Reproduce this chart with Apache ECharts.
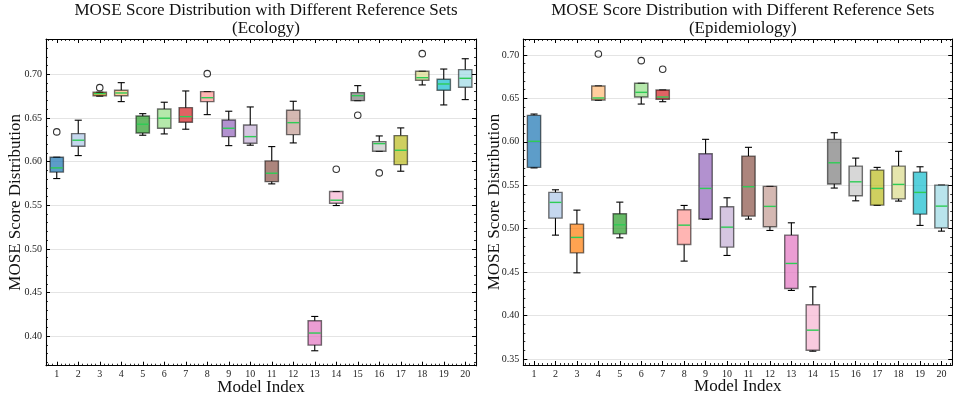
<!DOCTYPE html>
<html>
<head>
<meta charset="utf-8">
<script src="https://cdn.jsdelivr.net/npm/echarts@6/dist/echarts.min.js"></script>
<style>html,body{margin:0;padding:0;background:#fff;}#c{width:953px;height:398px;}</style>
</head>
<body>
<div id="c"></div>
<script>
// ---- data ----
const models = ['1','2','3','4','5','6','7','8','9','10','11','12','13','14','15','16','17','18','19','20'];
// [lower whisker, Q1, median, Q3, upper whisker]
const ecologyBoxes = [
  [0.5806, 0.5880, 0.5928, 0.6050, 0.6050],
  [0.6069, 0.6176, 0.6245, 0.6320, 0.6474],
  [0.6750, 0.6755, 0.6778, 0.6794, 0.6794],
  [0.6687, 0.6755, 0.6786, 0.6817, 0.6904],
  [0.6302, 0.6328, 0.6428, 0.6523, 0.6549],
  [0.6317, 0.6382, 0.6497, 0.6603, 0.6680],
  [0.6371, 0.6451, 0.6515, 0.6618, 0.6809],
  [0.6538, 0.6687, 0.6732, 0.6801, 0.6801],
  [0.6183, 0.6286, 0.6382, 0.6477, 0.6577],
  [0.6188, 0.6210, 0.6286, 0.6420, 0.6626],
  [0.5745, 0.5771, 0.5867, 0.6008, 0.6172],
  [0.6214, 0.6309, 0.6446, 0.6588, 0.6691],
  [0.3834, 0.3899, 0.4037, 0.4177, 0.4227],
  [0.5497, 0.5524, 0.5558, 0.5657, 0.5657],
  [0.6698, 0.6698, 0.6755, 0.6790, 0.6870],
  [0.6119, 0.6119, 0.6206, 0.6229, 0.6294],
  [0.5890, 0.5966, 0.6130, 0.6298, 0.6386],
  [0.6878, 0.6931, 0.6961, 0.7034, 0.7034],
  [0.6649, 0.6817, 0.6889, 0.6943, 0.7060],
  [0.6710, 0.6851, 0.6954, 0.7053, 0.7178]
];
// [model index (0-based), value]
const ecologyOutliers = [[0, 0.634], [2, 0.6847], [7, 0.7007], [13, 0.5913], [14, 0.6531], [15, 0.5871], [17, 0.7236]];

const epidemiologyBoxes = [
  [0.5700, 0.5706, 0.6006, 0.6305, 0.6320],
  [0.4926, 0.5122, 0.5303, 0.5418, 0.5448],
  [0.4492, 0.4722, 0.4900, 0.5053, 0.5214],
  [0.6480, 0.6482, 0.6505, 0.6643, 0.6643],
  [0.4895, 0.4941, 0.5045, 0.5172, 0.5306],
  [0.6435, 0.6516, 0.6570, 0.6674, 0.6674],
  [0.6462, 0.6490, 0.6516, 0.6597, 0.6597],
  [0.4627, 0.4819, 0.5041, 0.5218, 0.5268],
  [0.5107, 0.5111, 0.5464, 0.5863, 0.6029],
  [0.4692, 0.4788, 0.5018, 0.5253, 0.5356],
  [0.5111, 0.5145, 0.5483, 0.5836, 0.5937],
  [0.4980, 0.5022, 0.5257, 0.5487, 0.5487],
  [0.4289, 0.4312, 0.4600, 0.4926, 0.5068],
  [0.3590, 0.3601, 0.3832, 0.4124, 0.4331],
  [0.5468, 0.5514, 0.5759, 0.6029, 0.6105],
  [0.5321, 0.5379, 0.5540, 0.5721, 0.5813],
  [0.5270, 0.5272, 0.5464, 0.5675, 0.5706],
  [0.5318, 0.5344, 0.5510, 0.5721, 0.5891],
  [0.5038, 0.5168, 0.5418, 0.5652, 0.5713],
  [0.4972, 0.5010, 0.5260, 0.5502, 0.5502]
];
const epidemiologyOutliers = [[3, 0.7012], [5, 0.6935], [6, 0.6835]];

const titles = ['MOSE Score Distribution with Different Reference Sets\n(Ecology)',
                'MOSE Score Distribution with Different Reference Sets\n(Epidemiology)'];
const yName = 'MOSE Score Distribution';
const xName = 'Model Index';

const palette = ['#1f77b4','#aec7e8','#ff7f0e','#ffbb78','#2ca02c','#98df8a','#d62728','#ff9896','#9467bd','#c5b0d5',
                 '#8c564b','#c49c94','#e377c2','#f7b6d2','#7f7f7f','#c7c7c7','#bcbd22','#dbdb8d','#17becf','#9edae5'];

// ---- chart ----
const FONT = '"Liberation Serif", "DejaVu Serif", serif';
const minorCats = [];
for (let i = 0; i < models.length * 5; i++) minorCats.push(String(i));

function hexA(hex, a) {
  const r = parseInt(hex.slice(1,3),16), g = parseInt(hex.slice(3,5),16), b = parseInt(hex.slice(5,7),16);
  return 'rgba(' + r + ',' + g + ',' + b + ',' + a + ')';
}

function renderBox(params, api) {
  const x = api.value(0);
  const pLow = api.coord([x, api.value(1)]);
  const pQ1 = api.coord([x, api.value(2)]);
  const pMed = api.coord([x, api.value(3)]);
  const pQ3 = api.coord([x, api.value(4)]);
  const pHigh = api.coord([x, api.value(5)]);
  const band = api.size([1, 0])[0];
  const bw = band * 0.62;
  const cw = band * 0.33;
  const cx = pQ1[0];
  const black = {stroke: '#000', lineWidth: 1.1};
  return {
    type: 'group',
    children: [
      {type: 'line', shape: {x1: cx, y1: pQ1[1], x2: cx, y2: pLow[1]}, style: black},
      {type: 'line', shape: {x1: cx, y1: pQ3[1], x2: cx, y2: pHigh[1]}, style: black},
      {type: 'line', shape: {x1: cx - cw/2, y1: pLow[1], x2: cx + cw/2, y2: pLow[1]}, style: black},
      {type: 'line', shape: {x1: cx - cw/2, y1: pHigh[1], x2: cx + cw/2, y2: pHigh[1]}, style: black},
      {type: 'rect', shape: {x: cx - bw/2, y: pQ3[1], width: bw, height: Math.max(pQ1[1] - pQ3[1], 0.5)},
       style: {fill: hexA(palette[params.dataIndex], 0.72), stroke: 'rgba(0,0,0,0.55)', lineWidth: 1.4}},
      {type: 'line', shape: {x1: cx - bw/2 + 0.7, y1: pMed[1], x2: cx + bw/2 - 0.7, y2: pMed[1]},
       style: {stroke: '#2ecc55', lineWidth: 1.4}}
    ]
  };
}

const grids = [
  {left: 46, right: 477, top: 39, bottom: 32.3, containLabel: false, outerBoundsMode: 'none'},
  {left: 523.3, right: 0.8, top: 39, bottom: 33, containLabel: false, outerBoundsMode: 'none'}
];
const yRanges = [[0.3663, 0.7404], [0.3431, 0.7184]];
const boxesList = [ecologyBoxes, epidemiologyBoxes];
const outliersList = [ecologyOutliers, epidemiologyOutliers];
const yNameGaps = [22, 20];

const xAxes = [], yAxes = [], series = [], titleOpts = [];
const axisLine = {show: true, lineStyle: {color: '#000', width: 1.1}};

for (let g = 0; g < 2; g++) {
  const gr = grids[g];
  const centerX = gr.left + (953 - gr.left - gr.right) / 2;
  titleOpts.push({
    text: titles[g], left: centerX, top: -3, textAlign: 'center',
    textStyle: {fontFamily: FONT, fontSize: 17, fontWeight: 'normal', color: '#111', lineHeight: 18}
  });
  const base = xAxes.length;
  // main bottom category axis
  xAxes.push({
    type: 'category', data: models, gridIndex: g, position: 'bottom', boundaryGap: true,
    axisLine: axisLine,
    axisTick: {show: true, inside: true, alignWithLabel: true, interval: 0, length: 4, lineStyle: {color: '#000', width: 1}},
    axisLabel: {interval: 0, fontFamily: FONT, fontSize: 10, color: '#222', margin: 4},
    splitLine: {show: false},
    name: xName, nameLocation: 'middle', nameGap: 13, nameMoveOverlap: false,
    nameTextStyle: {fontFamily: FONT, fontSize: 17, color: '#111'}
  });
  // minor bottom ticks
  xAxes.push({
    type: 'category', data: minorCats, gridIndex: g, position: 'bottom', boundaryGap: true,
    axisLine: {show: false},
    axisTick: {show: true, inside: true, alignWithLabel: true, interval: 0, length: 2, lineStyle: {color: '#000', width: 0.8}},
    axisLabel: {show: false}, splitLine: {show: false}
  });
  // top major
  xAxes.push({
    type: 'category', data: models, gridIndex: g, position: 'top', boundaryGap: true,
    axisLine: axisLine,
    axisTick: {show: true, inside: true, alignWithLabel: true, interval: 0, length: 4, lineStyle: {color: '#000', width: 1}},
    axisLabel: {show: false}, splitLine: {show: false}
  });
  // top minor
  xAxes.push({
    type: 'category', data: minorCats, gridIndex: g, position: 'top', boundaryGap: true,
    axisLine: {show: false},
    axisTick: {show: true, inside: true, alignWithLabel: true, interval: 0, length: 2, lineStyle: {color: '#000', width: 0.8}},
    axisLabel: {show: false}, splitLine: {show: false}
  });
  const yBase = yAxes.length;
  yAxes.push({
    type: 'value', gridIndex: g, position: 'left', min: yRanges[g][0], max: yRanges[g][1], splitNumber: 7,
    axisLine: axisLine,
    axisTick: {show: true, inside: true, length: 4, lineStyle: {color: '#000', width: 1}},
    minorTick: {show: true, splitNumber: 5, length: 2, lineStyle: {color: '#000', width: 0.8}},
    axisLabel: {fontFamily: FONT, fontSize: 10, color: '#222', margin: 4, showMinLabel: false, showMaxLabel: false,
                formatter: v => v.toFixed(2)},
    splitLine: {show: true, lineStyle: {color: '#e4e4e4', width: 1}},
    name: yName, nameLocation: 'middle', nameGap: yNameGaps[g], nameMoveOverlap: false,
    nameTextStyle: {fontFamily: FONT, fontSize: 17, color: '#111'}
  });
  yAxes.push({
    type: 'value', gridIndex: g, position: 'right', min: yRanges[g][0], max: yRanges[g][1], splitNumber: 7,
    axisLine: axisLine,
    axisTick: {show: true, inside: true, length: 4, lineStyle: {color: '#000', width: 1}},
    minorTick: {show: true, splitNumber: 5, length: 2, lineStyle: {color: '#000', width: 0.8}},
    axisLabel: {show: false}, splitLine: {show: false}
  });
  series.push({
    type: 'custom', xAxisIndex: base, yAxisIndex: yBase,
    renderItem: renderBox,
    encode: {x: 0, y: [1, 2, 3, 4, 5]},
    data: boxesList[g].map((b, i) => [i].concat(b)),
    z: 3
  });
  series.push({
    type: 'scatter', xAxisIndex: base, yAxisIndex: yBase,
    symbol: 'circle', symbolSize: 6.5,
    itemStyle: {color: 'rgba(255,255,255,0)', borderColor: '#000', borderWidth: 1.1},
    data: outliersList[g],
    z: 4
  });
}

const chart = echarts.init(document.getElementById('c'), null, {renderer: 'canvas'});
chart.setOption({
  animation: false,
  backgroundColor: '#fff',
  title: titleOpts,
  grid: grids,
  xAxis: xAxes,
  yAxis: yAxes,
  series: series
});
</script>
</body>
</html>
